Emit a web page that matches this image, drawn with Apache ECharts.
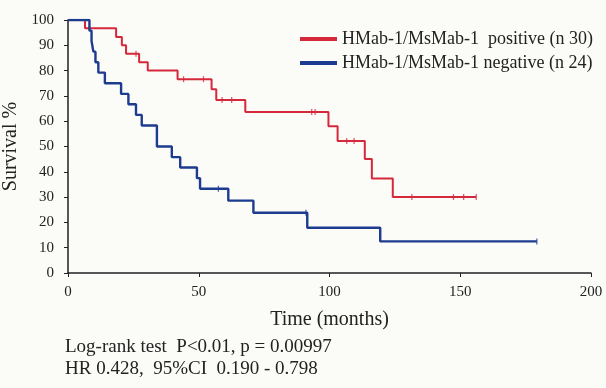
<!DOCTYPE html>
<html>
<head>
<meta charset="utf-8">
<script src="https://cdn.jsdelivr.net/npm/echarts@6/dist/echarts.min.js"></script>
<style>
  html, body { margin: 0; padding: 0; background: #fbfbf8; }
  #chart { width: 606px; height: 388px; }
</style>
</head>
<body>
<div id="chart"></div>
<script>
// Kaplan-Meier steps (time in months, survival in %)
var posTimes = [0, 6.5, 18.4, 20.6, 22.2, 27.2, 30.5, 41.9, 54.9, 56.7, 67.8, 99.6, 103.1, 113.5, 116.2, 124.2, 156.1];
var posSurv = [100, 96.7, 93.3, 90, 86.7, 83.3, 80, 76.6, 72.6, 68.4, 63.6, 58, 52.2, 45.1, 37.4, 30, 30];
var negTimes = [0, 8.2, 9.0, 9.7, 10.5, 11.6, 14.1, 20.3, 23.1, 26.0, 28.2, 34.0, 39.7, 42.9, 49.3, 50.5, 61.3, 70.9, 91.5, 119.4, 179.3];
var negSurv = [100, 95.8, 91.7, 87.5, 83.3, 79.2, 75, 70.8, 66.7, 62.5, 58.3, 50, 45.8, 41.7, 37.5, 33.3, 28.6, 23.8, 17.9, 12.5, 12.5];
// censored observations (tick marks)
var posCensor = [26, 44.2, 51.8, 58.9, 62.6, 93.2, 94.5, 106.6, 109.4, 131.5, 147.4, 151.3, 156.1];
var negCensor = [57.5, 91, 179.3];
var xTicks = [0, 50, 100, 150, 200];
var yTicks = [0, 10, 20, 30, 40, 50, 60, 70, 80, 90, 100];

var posName = 'HMab-1/MsMab-1  positive (n 30)';
var negName = 'HMab-1/MsMab-1 negative (n 24)';

function zip(ts, vs) {
  return ts.map(function (t, i) { return [t, vs[i]]; });
}
// survival value of the step curve at time t
function stepAt(ts, vs, t) {
  var v = vs[0];
  for (var i = 0; i < ts.length; i++) {
    if (ts[i] <= t) v = vs[i];
  }
  return v;
}
function censorPts(cs, ts, vs) {
  return cs.map(function (t) { return [t, stepAt(ts, vs, t)]; });
}

var red = '#d6283b';
var blue = '#1d3b8f';
var serif = '"Liberation Serif", "DejaVu Serif", serif';

var myChart = echarts.init(document.getElementById('chart'));

var option = {
  backgroundColor: '#fbfbf8',
  animation: false,
  textStyle: { fontFamily: serif, color: '#222' },
  grid: { left: 68, right: 15, top: 20, bottom: 115, outerBoundsMode: 'none', containLabel: false },
  legend: {
    orient: 'vertical',
    left: 295,
    top: 25,
    itemWidth: 37,
    itemHeight: 4,
    itemGap: 6,
    icon: 'rect',
    data: [posName, negName],
    textStyle: { fontFamily: serif, fontSize: 18, color: '#222' }
  },
  xAxis: {
    type: 'value',
    min: 0,
    max: 200,
    interval: 50,
    name: 'Time (months)',
    nameLocation: 'middle',
    nameGap: 37,
    nameTextStyle: { fontFamily: serif, fontSize: 20, color: '#222' },
    splitLine: { show: false },
    axisLine: { lineStyle: { color: '#222', width: 1.5 } },
    axisTick: { length: 4, lineStyle: { color: '#222' } },
    axisLabel: {
      fontSize: 15, color: '#222', margin: 12,
      formatter: function (v) { return xTicks.indexOf(v) >= 0 ? v : ''; }
    }
  },
  yAxis: {
    type: 'value',
    min: 0,
    max: 100,
    interval: 10,
    name: 'Survival %',
    nameLocation: 'middle',
    nameRotate: 90,
    nameGap: 40,
    nameTextStyle: { fontFamily: serif, fontSize: 20, color: '#222' },
    splitLine: { show: false },
    axisLine: { show: true, lineStyle: { color: '#222', width: 1.5 } },
    axisTick: { show: true, length: 4, lineStyle: { color: '#222' } },
    axisLabel: {
      fontSize: 15, color: '#222', margin: 14,
      formatter: function (v) { return yTicks.indexOf(v) >= 0 ? v : ''; }
    }
  },
  series: [
    {
      name: posName,
      type: 'line',
      step: 'end',
      symbol: 'none',
      color: red,
      lineStyle: { width: 2, color: red },
      data: zip(posTimes, posSurv),
      z: 3
    },
    {
      name: negName,
      type: 'line',
      step: 'end',
      symbol: 'none',
      color: blue,
      lineStyle: { width: 2.4, color: blue },
      data: zip(negTimes, negSurv),
      z: 4
    },
    {
      type: 'scatter',
      symbol: 'rect',
      symbolSize: [1.2, 6],
      itemStyle: { color: red },
      data: censorPts(posCensor, posTimes, posSurv),
      z: 5
    },
    {
      type: 'scatter',
      symbol: 'rect',
      symbolSize: [1.2, 6],
      itemStyle: { color: blue },
      data: censorPts(negCensor, negTimes, negSurv),
      z: 5
    }
  ],
  graphic: [
    {
      type: 'text',
      left: 65,
      top: 338,
      style: { text: 'Log-rank test  P<0.01, p = 0.00997', fontFamily: serif, fontSize: 19, fill: '#222' }
    },
    {
      type: 'text',
      left: 65,
      top: 360,
      style: { text: 'HR 0.428,  95%CI  0.190 - 0.798', fontFamily: serif, fontSize: 19, fill: '#222' }
    }
  ]
};

myChart.setOption(option);
</script>
</body>
</html>
